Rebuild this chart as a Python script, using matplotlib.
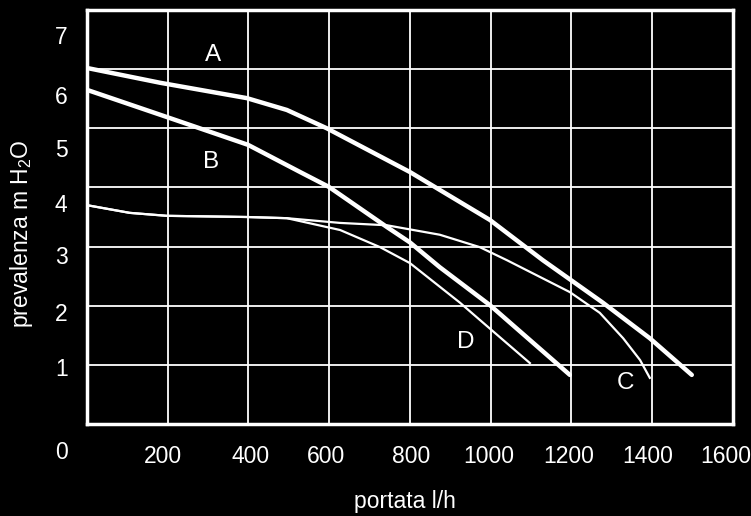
import matplotlib
matplotlib.use("Agg")
import matplotlib.pyplot as plt

plt.rcParams['font.family'] = ['Liberation Sans Narrow', 'Liberation Sans', 'DejaVu Sans']
plt.rcParams['mathtext.default'] = 'regular'

# portata l/h vs prevalenza m H2O
a_x = [0, 181, 396, 495, 594, 800, 998, 1129, 1278, 1394, 1498]
a_y = [6.02, 5.77, 5.51, 5.31, 5.00, 4.26, 3.45, 2.77, 2.05, 1.45, 0.83]

b_x = [0, 198, 399, 528, 599, 743, 800, 874, 998, 1097, 1196]
b_y = [5.65, 5.19, 4.72, 4.26, 4.01, 3.33, 3.07, 2.65, 2.01, 1.42, 0.83]

c_x = [0, 106, 198, 396, 495, 627, 743, 874, 973, 1040, 1196, 1270, 1328, 1370, 1394]
c_y = [3.70, 3.57, 3.52, 3.50, 3.48, 3.40, 3.36, 3.20, 2.99, 2.77, 2.23, 1.88, 1.45, 1.08, 0.78]

d_x = [0, 106, 198, 396, 495, 627, 726, 800, 924, 973, 1097]
d_y = [3.70, 3.57, 3.52, 3.50, 3.48, 3.28, 2.99, 2.72, 2.05, 1.76, 1.03]

x_tick_labels = ['200', '400', '600', '800', '1000', '1200', '1400', '1600']
y_tick_labels = ['1', '2', '3', '4', '5', '6', '7']

curve_names = ['A', 'B', 'C', 'D']

# where the printed labels sit (layout only, the scan is a bit off the grid)
x_label_pos = [188, 404, 592, 802, 996, 1194, 1389, 1583]
y_label_pos = [0.96, 1.89, 2.86, 3.74, 4.67, 5.56, 6.58]
name_pos = [(312, 6.24), (307, 4.43), (1335, 0.69), (939, 1.39)]

fig = plt.figure(figsize=(7.51, 5.16), dpi=100, facecolor='black')
ax = fig.add_axes([0.1158, 0.1783, 0.8602, 0.8023])
ax.set_facecolor('black')

ax.set_xlim(0, 1600)
ax.set_ylim(0, 7)

# grid on minor ticks, labels on major ticks
ax.set_xticks(range(0, 1601, 200), minor=True)
ax.set_xticks(x_label_pos)
ax.set_xticklabels(x_tick_labels)
ax.set_yticks(range(8), minor=True)
ax.set_yticks(y_label_pos)
ax.set_yticklabels(y_tick_labels)

ax.tick_params(which='both', length=0, colors='white', labelsize=16.5)
ax.tick_params(axis='x', pad=15)
ax.tick_params(axis='y', pad=14)

ax.grid(which='minor', color='white', lw=1.3)
ax.grid(which='major', visible=False)
ax.set_axisbelow(True)
for s in ax.spines.values():
    s.set_color('white')
    s.set_linewidth(2.5)

ax.plot(a_x, a_y, color='white', lw=3.2, solid_capstyle='round', solid_joinstyle='round')
ax.plot(b_x, b_y, color='white', lw=3.2, solid_capstyle='round', solid_joinstyle='round')
ax.plot(c_x, c_y, color='white', lw=1.6, solid_joinstyle='round')
ax.plot(d_x, d_y, color='white', lw=1.6, solid_joinstyle='round')

for name, (tx, ty) in zip(curve_names, name_pos):
    ax.text(tx, ty, name, color='white', fontsize=17.5, ha='center', va='center')

ax.text(-0.039, -0.070, '0', color='white', fontsize=16.5, ha='center', va='center',
        transform=ax.transAxes)

ax.set_xlabel('portata l/h', color='white', fontsize=16.5, va='center')
ax.xaxis.set_label_coords(0.492, -0.188)
ax.set_ylabel('prevalenza m H$_2$O', color='white', fontsize=16.5, va='center')
ax.yaxis.set_label_coords(-0.102, 0.461)

fig.savefig('out.png', dpi=100, facecolor='black')
